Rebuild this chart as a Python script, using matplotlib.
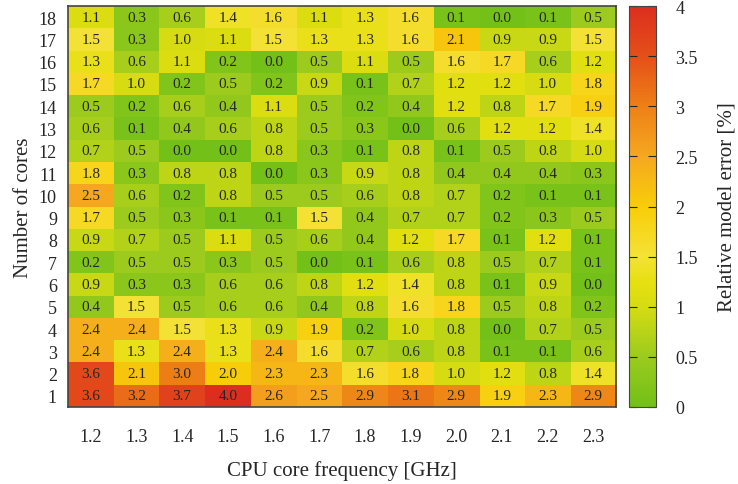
import numpy as np
import matplotlib
matplotlib.use("Agg")
import matplotlib.pyplot as plt
from matplotlib.colors import LinearSegmentedColormap

plt.rcParams["font.family"] = ["Liberation Serif", "DejaVu Serif"]

freqs = ["1.2", "1.3", "1.4", "1.5", "1.6", "1.7", "1.8", "1.9", "2.0", "2.1", "2.2", "2.3"]
cores = list(range(1, 19))

# relative error per (cores, frequency), row 0 = 1 core
errors = np.array([
    [3.6, 3.2, 3.7, 4.0, 2.6, 2.5, 2.9, 3.1, 2.9, 1.9, 2.3, 2.9],
    [3.6, 2.1, 3.0, 2.0, 2.3, 2.3, 1.6, 1.8, 1.0, 1.2, 0.8, 1.4],
    [2.4, 1.3, 2.4, 1.3, 2.4, 1.6, 0.7, 0.6, 0.8, 0.1, 0.1, 0.6],
    [2.4, 2.4, 1.5, 1.3, 0.9, 1.9, 0.2, 1.0, 0.8, 0.0, 0.7, 0.5],
    [0.4, 1.5, 0.5, 0.6, 0.6, 0.4, 0.8, 1.6, 1.8, 0.5, 0.8, 0.2],
    [0.9, 0.3, 0.3, 0.6, 0.6, 0.8, 1.2, 1.4, 0.8, 0.1, 0.9, 0.0],
    [0.2, 0.5, 0.5, 0.3, 0.5, 0.0, 0.1, 0.6, 0.8, 0.5, 0.7, 0.1],
    [0.9, 0.7, 0.5, 1.1, 0.5, 0.6, 0.4, 1.2, 1.7, 0.1, 1.2, 0.1],
    [1.7, 0.5, 0.3, 0.1, 0.1, 1.5, 0.4, 0.7, 0.7, 0.2, 0.3, 0.5],
    [2.5, 0.6, 0.2, 0.8, 0.5, 0.5, 0.6, 0.8, 0.7, 0.2, 0.1, 0.1],
    [1.8, 0.3, 0.8, 0.8, 0.0, 0.3, 0.9, 0.8, 0.4, 0.4, 0.4, 0.3],
    [0.7, 0.5, 0.0, 0.0, 0.8, 0.3, 0.1, 0.8, 0.1, 0.5, 0.8, 1.0],
    [0.6, 0.1, 0.4, 0.6, 0.8, 0.5, 0.3, 0.0, 0.6, 1.2, 1.2, 1.4],
    [0.5, 0.2, 0.6, 0.4, 1.1, 0.5, 0.2, 0.4, 1.2, 0.8, 1.7, 1.9],
    [1.7, 1.0, 0.2, 0.5, 0.2, 0.9, 0.1, 0.7, 1.2, 1.2, 1.0, 1.8],
    [1.3, 0.6, 1.1, 0.2, 0.0, 0.5, 1.1, 0.5, 1.6, 1.7, 0.6, 1.2],
    [1.5, 0.3, 1.0, 1.1, 1.5, 1.3, 1.3, 1.6, 2.1, 0.9, 0.9, 1.5],
    [1.1, 0.3, 0.6, 1.4, 1.6, 1.1, 1.3, 1.6, 0.1, 0.0, 0.1, 0.5],
])

# green -> yellow -> orange -> red
cmap = LinearSegmentedColormap.from_list("gyr", [
    (0.0, "#72c018"),
    (0.125, "#9ccb1e"),
    (0.25, "#d6dc12"),
    (0.31, "#e6e010"),
    (0.375, "#f4e236"),
    (0.5, "#f8cd08"),
    (0.625, "#f5a820"),
    (0.75, "#ee8016"),
    (0.875, "#e55019"),
    (1.0, "#dc2e1e"),
])

fig = plt.figure(figsize=(7.38, 4.85), dpi=100)
ax = fig.add_axes([68 / 738, 1 - 408 / 485, 548 / 738, 401 / 485])
cax = fig.add_axes([629 / 738, 1 - 408 / 485, 27 / 738, 401 / 485])

im = ax.imshow(errors, cmap=cmap, vmin=0, vmax=4, origin="lower", aspect="auto",
               interpolation="nearest")

for i in range(len(cores)):
    for j in range(len(freqs)):
        ax.text(j, i, f"{errors[i, j]:.1f}", ha="center", va="center",
                fontsize=11, color="#262626")

ax.set_xticks(range(len(freqs)))
ax.set_xticklabels(freqs)
ax.set_yticks(range(len(cores)))
ax.set_yticklabels([str(c) for c in cores])
ax.tick_params(length=0, labelsize=13, pad=15, colors="#262626")
ax.tick_params(axis="y", pad=8)
ax.set_xlabel("CPU core frequency [GHz]", fontsize=15, labelpad=11, color="#262626")
ax.set_ylabel("Number of cores", fontsize=15, labelpad=4, color="#262626")
for s in ax.spines.values():
    s.set_color("#444444")
    s.set_linewidth(1.2)

cb = fig.colorbar(im, cax=cax)
cb.set_ticks([0, 0.5, 1, 1.5, 2, 2.5, 3, 3.5, 4])
cb.set_ticklabels(["0", "0.5", "1", "1.5", "2", "2.5", "3", "3.5", "4"])
cax.tick_params(direction="in", length=6, left=True, right=True, labelsize=13,
                pad=14, colors="#262626")
cax.tick_params(which="minor", length=0)
cb.outline.set_edgecolor("#444444")
cb.set_label("Relative model error [%]", fontsize=15, labelpad=14, color="#262626")

fig.savefig("out.png", dpi=100)
